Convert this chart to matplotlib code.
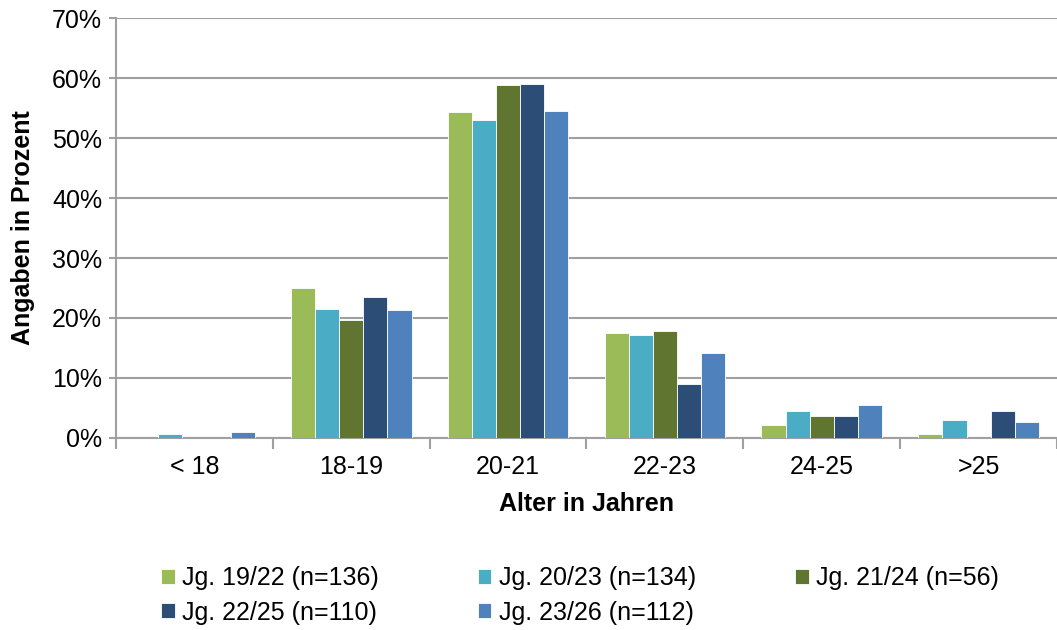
import numpy as np
import matplotlib.pyplot as plt

plt.rcParams['font.family'] = ['Liberation Sans', 'DejaVu Sans']

# Data
categories = ["< 18", "18-19", "20-21", "22-23", "24-25", ">25"]
series_labels = ["Jg. 19/22 (n=136)", "Jg. 20/23 (n=134)", "Jg. 21/24 (n=56)",
                 "Jg. 22/25 (n=110)", "Jg. 23/26 (n=112)"]
jg_19_22 = [0.0, 25.0, 54.4, 17.5, 2.2, 0.7]
jg_20_23 = [0.7, 21.5, 53.0, 17.2, 4.5, 3.0]
jg_21_24 = [0.0, 19.6, 58.8, 17.9, 3.6, 0.0]
jg_22_25 = [0.0, 23.5, 59.1, 9.0, 3.6, 4.5]
jg_23_26 = [0.9, 21.3, 54.5, 14.2, 5.4, 2.7]
colors = ["#9BBB59", "#4BACC6", "#5F7530", "#2C4D75", "#4F81BD"]

series = [jg_19_22, jg_20_23, jg_21_24, jg_22_25, jg_23_26]

fig = plt.figure(figsize=(10.57, 6.3), dpi=100)
ax = fig.add_axes([0.1097, 0.305, 0.8903, 0.666])

x = np.arange(len(categories))
w = 0.154
handles = []
for i, (vals, lab, col) in enumerate(zip(series, series_labels, colors)):
    b = ax.bar(x + (i - 2) * w, vals, width=w, color=col, label=lab,
               edgecolor="white", linewidth=0.6, zorder=3)
    handles.append(b)

ax.set_xlim(-0.5, len(categories) - 0.5)
ax.set_ylim(0, 70)
ax.set_yticks(np.arange(0, 71, 10))
ax.set_yticklabels([f"{v}%" for v in range(0, 71, 10)], fontsize=18)
ax.yaxis.grid(True, color="#A0A0A0", linewidth=1.5, zorder=0)

ax.set_xticks(x)
ax.set_xticklabels(categories, fontsize=18)
ax.set_xticks(np.arange(-0.5, len(categories) + 0.5, 1), minor=True)
ax.tick_params(axis="x", which="major", length=0, pad=12)
ax.tick_params(axis="x", which="minor", length=8, width=1.5, color="#A0A0A0",
               direction="out")
ax.tick_params(axis="y", length=5, width=1.5, color="#A0A0A0", pad=5)

for s in ["top", "right"]:
    ax.spines[s].set_visible(False)
for s in ["left", "bottom"]:
    ax.spines[s].set_color("#A0A0A0")
    ax.spines[s].set_linewidth(1.5)

ax.set_xlabel("Alter in Jahren", fontsize=18, fontweight="bold", labelpad=10)
ax.set_ylabel("Angaben in Prozent", fontsize=18, fontweight="bold", labelpad=12)

# legend filled row by row (matplotlib fills columns first)
order = [0, 3, 1, 4, 2]
fig.legend([handles[i] for i in order], [series_labels[i] for i in order],
           loc="lower left", bbox_to_anchor=(0.131, -0.027), ncol=3, frameon=False,
           fontsize=18, handlelength=0.55, handleheight=0.55, handletextpad=0.3,
           columnspacing=3.95, labelspacing=0.42)

fig.savefig("out.png", dpi=100)
